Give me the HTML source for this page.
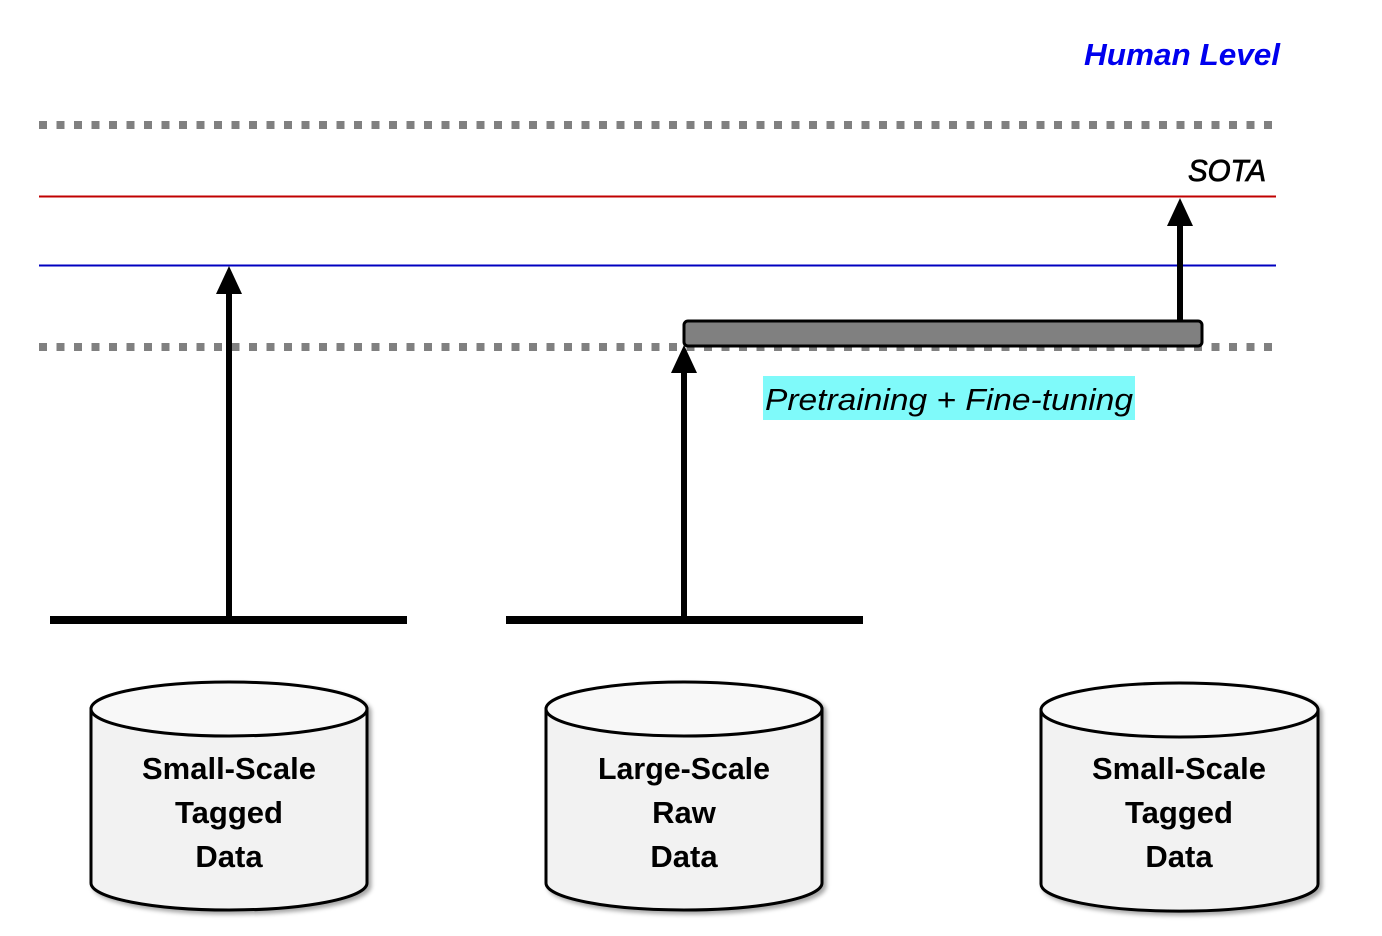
<!DOCTYPE html>
<html><head><style>body{margin:0;background:#fff}svg{display:block}</style></head>
<body>
<svg width="1382" height="936" viewBox="0 0 1382 936" xmlns="http://www.w3.org/2000/svg" font-family="Liberation Sans, sans-serif">
<defs>
<filter id="sh" x="-10%" y="-10%" width="130%" height="130%"><feDropShadow dx="3" dy="3" stdDeviation="2" flood-color="#000" flood-opacity="0.35"/></filter>
</defs>
<text x="1280" y="65" text-anchor="end" font-size="31" font-weight="bold" font-style="italic" fill="#0000ee" textLength="196" lengthAdjust="spacingAndGlyphs">Human Level</text>
<text x="1266" y="181" text-anchor="end" font-size="31" font-style="italic" fill="#000" stroke="#000" stroke-width="0.8" textLength="78" lengthAdjust="spacingAndGlyphs">SOTA</text>
<line x1="39" y1="125" x2="1276" y2="125" stroke="#808080" stroke-width="8" stroke-dasharray="8 9.5"/>
<line x1="39" y1="347" x2="1276" y2="347" stroke="#808080" stroke-width="8" stroke-dasharray="8 9.5"/>
<line x1="39" y1="196.5" x2="1276" y2="196.5" stroke="#c00000" stroke-width="2"/>
<line x1="39" y1="265.5" x2="1276" y2="265.5" stroke="#0000c0" stroke-width="2"/>
<rect x="684" y="321" width="518" height="25" rx="4" fill="#808080" stroke="#000" stroke-width="3"/>
<rect x="763" y="376" width="372" height="44" fill="#7ffafa"/>
<text x="765" y="410" font-size="31" font-style="italic" fill="#000" textLength="368" lengthAdjust="spacingAndGlyphs">Pretraining + Fine-tuning</text>
<rect x="50" y="616" width="357" height="8" fill="#000"/>
<rect x="506" y="616" width="357" height="8" fill="#000"/>
<rect x="226" y="290" width="6" height="330" fill="#000"/>
<polygon points="229,266 216,294 242,294" fill="#000"/>
<rect x="681" y="370" width="6" height="250" fill="#000"/>
<polygon points="684,345 671,373 697,373" fill="#000"/>
<rect x="1177" y="222" width="6" height="100" fill="#000"/>
<polygon points="1180,198 1167,226 1193,226" fill="#000"/>
<g stroke="#000" stroke-width="3" filter="url(#sh)">
<path d="M91,709 L91,883 A138,27 0 0 0 367,883 L367,709 Z" fill="#f2f2f2"/>
<ellipse cx="229" cy="709" rx="138" ry="27" fill="#f8f8f8"/>
<path d="M546,709 L546,883 A138,27 0 0 0 822,883 L822,709 Z" fill="#f2f2f2"/>
<ellipse cx="684" cy="709" rx="138" ry="27" fill="#f8f8f8"/>
<path d="M1041,710 L1041,884 A138,27 0 0 0 1318,884 L1318,710 Z" fill="#f2f2f2"/>
<ellipse cx="1179.5" cy="710" rx="138.5" ry="27" fill="#f8f8f8"/>
</g>
<g font-size="31" font-weight="bold" text-anchor="middle" fill="#000">
<text x="229" y="779" textLength="174" lengthAdjust="spacingAndGlyphs">Small-Scale</text>
<text x="229" y="823">Tagged</text>
<text x="229" y="867">Data</text>
<text x="684" y="779" textLength="172" lengthAdjust="spacingAndGlyphs">Large-Scale</text>
<text x="684" y="823">Raw</text>
<text x="684" y="867">Data</text>
<text x="1179" y="779" textLength="174" lengthAdjust="spacingAndGlyphs">Small-Scale</text>
<text x="1179" y="823">Tagged</text>
<text x="1179" y="867">Data</text>
</g>
</svg>
</body></html>
